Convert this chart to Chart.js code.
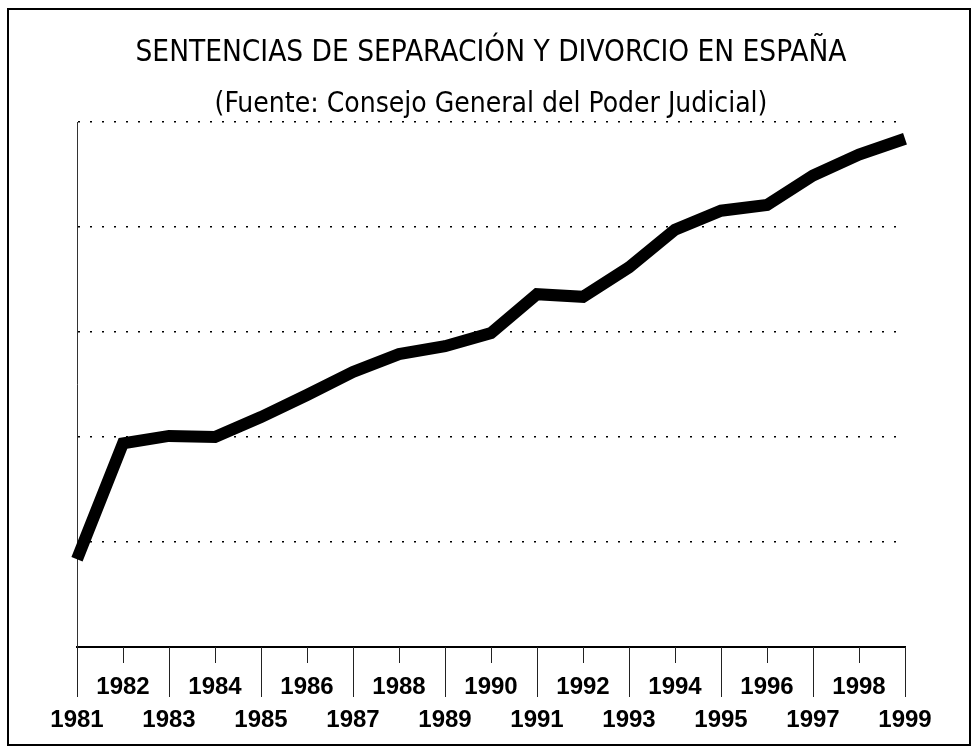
<!DOCTYPE html>
<html>
<head>
<meta charset="utf-8">
<script src="https://cdn.jsdelivr.net/npm/chart.js@4.4.1/dist/chart.umd.min.js"></script>
<style>
  html, body { margin: 0; padding: 0; background: #fff; }
  #wrap { position: relative; width: 976px; height: 751px; }
</style>
</head>
<body>
<div id="wrap"><canvas id="c" width="976" height="751"></canvas></div>
<script>
const years = ['1981','1982','1983','1984','1985','1986','1987','1988','1989','1990',
               '1991','1992','1993','1994','1995','1996','1997','1998','1999'];
// Sentencias de separación y divorcio (arbitrary units; no axis values printed)
const sentencias = [16.7, 38.8, 40.2, 40.0, 43.8, 48.0, 52.4, 55.8, 57.3, 59.8,
                    67.2, 66.7, 72.3, 79.5, 83.1, 84.2, 89.8, 93.8, 96.8];
const yTicks = [0, 20, 40, 60, 80, 100];
const titleText = 'SENTENCIAS DE SEPARACIÓN Y DIVORCIO EN ESPAÑA';
const subtitleText = '(Fuente: Consejo General del Poder Judicial)';

// two-row staggered labels: even years on upper row, odd years on lower row
const tickLabels = years.map((y, i) => (i % 2 === 1) ? [y, ''] : ['', y]);

const frameAndTicks = {
  id: 'frameAndTicks',
  afterDraw(chart) {
    const ctx = chart.ctx;
    ctx.save();
    // outer frame
    ctx.strokeStyle = '#000';
    ctx.lineWidth = 2;
    ctx.strokeRect(8, 9, 962, 736);
    // staggered tick marks on x axis
    const xs = chart.scales.x;
    ctx.lineWidth = 1;
    ctx.strokeStyle = '#222';
    xs.ticks.forEach((t, i) => {
      const x = Math.round(xs.getPixelForTick(i)) + 0.5;
      const len = (i % 2 === 0) ? 50 : 16;
      ctx.beginPath();
      ctx.moveTo(x, xs.top);
      ctx.lineTo(x, xs.top + len);
      ctx.stroke();
    });
    ctx.restore();
  }
};

const titleFont = "'DejaVu Sans Condensed', 'Liberation Sans Narrow', 'Liberation Sans', sans-serif";

new Chart(document.getElementById('c'), {
  type: 'line',
  data: {
    labels: tickLabels,
    datasets: [{
      data: sentencias,
      borderColor: '#000',
      borderWidth: 12,
      tension: 0,
      pointRadius: 0,
      borderJoinStyle: 'miter',
      borderCapStyle: 'butt',
      fill: false
    }]
  },
  options: {
    responsive: false,
    animation: false,
    devicePixelRatio: 1,
    layout: { padding: { left: 77, right: 71, top: 0, bottom: 13 } },
    plugins: {
      legend: { display: false },
      tooltip: { enabled: false },
      title: {
        display: true,
        text: titleText,
        color: '#000',
        font: { family: titleFont, size: 29.5, weight: 'normal', lineHeight: 1.2 },
        padding: { top: 36, bottom: 5 }
      },
      subtitle: {
        display: true,
        text: subtitleText,
        color: '#000',
        font: { family: titleFont, size: 28, weight: 'normal', lineHeight: 1.2 },
        padding: { top: 12, bottom: 0 }
      }
    },
    scales: {
      x: {
        offset: false,
        grid: { display: false, drawTicks: false },
        border: { display: true, color: '#000', width: 2 },
        afterFit(scale) { scale.height = 91; },
        ticks: {
          autoSkip: false,
          maxRotation: 0,
          minRotation: 0,
          padding: 24,
          color: '#000',
          font: { family: "'Liberation Sans', Arial, sans-serif", size: 24, weight: 'bold', lineHeight: 1.375 }
        }
      },
      y: {
        min: 0,
        max: 100,
        afterBuildTicks(scale) { scale.ticks = yTicks.map(v => ({ value: v })); },
        ticks: { display: false },
        grid: {
          drawTicks: false,
          color: (c) => (c.tick && c.tick.value === 0) ? 'rgba(0,0,0,0)' : '#000',
          lineWidth: 1.5
        },
        border: { display: true, color: '#333', width: 1, dash: [2, 10] }
      }
    }
  },
  plugins: [frameAndTicks]
});
</script>
</body>
</html>
